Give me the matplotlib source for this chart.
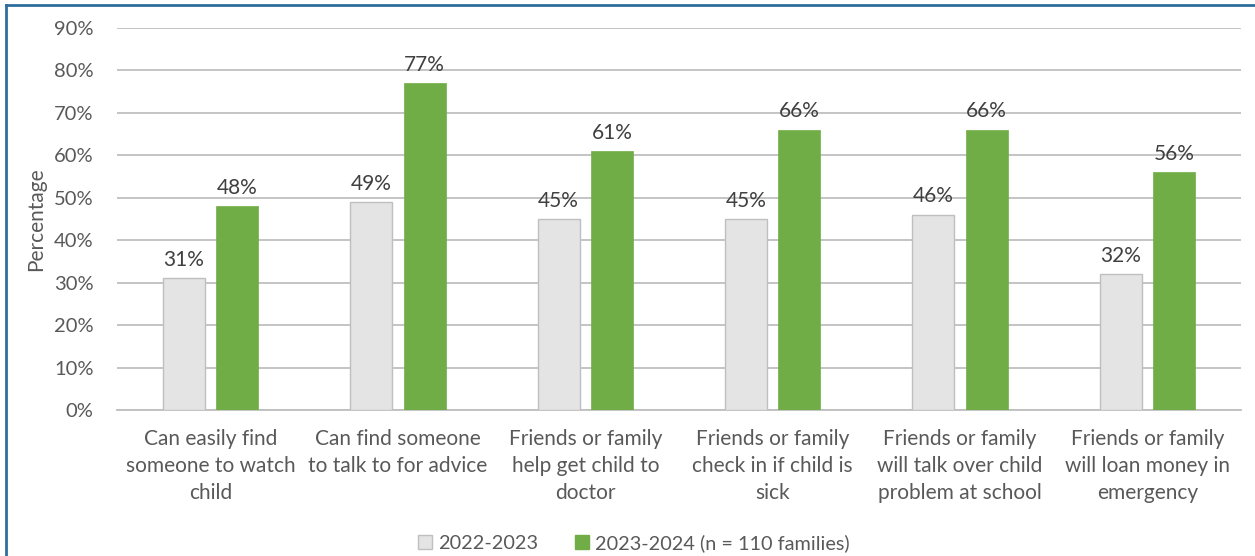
import numpy as np
import matplotlib.pyplot as plt
from matplotlib.patches import Rectangle
from matplotlib.lines import Line2D

# Chart data
categories = [
    "Can easily find\nsomeone to watch\nchild",
    "Can find someone\nto talk to for advice",
    "Friends or family\nhelp get child to\ndoctor",
    "Friends or family\ncheck in if child is\nsick",
    "Friends or family\nwill talk over child\nproblem at school",
    "Friends or family\nwill loan money in\nemergency",
]
series_names = ["2022-2023", "2023-2024 (n = 110 families)"]
values_2022 = [31, 49, 45, 45, 46, 32]
values_2023 = [48, 77, 61, 66, 66, 56]
y_ticks = [0, 10, 20, 30, 40, 50, 60, 70, 80, 90]

plt.rcParams['font.family'] = ['Lato', 'DejaVu Sans']
text_color = "#595959"
gray_fill = "#E4E4E4"
gray_edge = "#BFBFBF"
green = "#70AD47"

fig = plt.figure(figsize=(12.55, 5.56), dpi=100)
ax = fig.add_axes([117 / 1255, 1 - 410 / 556, (1241 - 117) / 1255, (410 - 28) / 556])

x = np.arange(len(categories))
width = 0.225
off = width / 2 + 0.03
b1 = ax.bar(x - off, values_2022, width, color=gray_fill, edgecolor=gray_edge,
            linewidth=1, zorder=3, label=series_names[0])
b2 = ax.bar(x + off, values_2023, width, color=green, edgecolor=green,
            linewidth=0.5, zorder=3, label=series_names[1])

for bars, vals in [(b1, values_2022), (b2, values_2023)]:
    for r, v in zip(bars, vals):
        ax.text(r.get_x() + r.get_width() / 2, v + 2.0, f"{v}%", ha="center",
                va="bottom", fontsize=15, color="#404040")

ax.set_xlim(-0.5, len(categories) - 0.5)
ax.set_ylim(0, 90)
ax.set_yticks(y_ticks)
ax.set_yticklabels([f"{t}%" for t in y_ticks])
ax.yaxis.grid(True, color="#BFBFBF", linewidth=1.3, zorder=0)
ax.set_axisbelow(True)
for s in ["top", "right", "left"]:
    ax.spines[s].set_visible(False)
ax.spines["bottom"].set_color("#BFBFBF")
ax.spines["bottom"].set_linewidth(1.3)
ax.tick_params(axis="y", length=0, pad=17, labelsize=14.5, labelcolor=text_color)
ax.tick_params(axis="x", length=0, pad=14, labelsize=15, labelcolor=text_color)
ax.set_xticks(x)
ax.set_xticklabels(categories, linespacing=1.42)
ax.set_ylabel("Percentage", fontsize=15, color=text_color)
ax.yaxis.set_label_coords(-0.063, 0.5)

handles = [Rectangle((0, 0), 1, 1, facecolor=gray_fill, edgecolor=gray_edge),
           Rectangle((0, 0), 1, 1, facecolor=green, edgecolor=green)]
fig.legend(handles, series_names, loc="center", bbox_to_anchor=(0.505, 1 - 543 / 556),
           ncol=2, frameon=False, fontsize=14.3, labelcolor=text_color,
           handlelength=0.7, handleheight=0.7, handletextpad=0.3, columnspacing=1.9)

# blue frame on top and left edges
border = "#2E6E9E"
fig.add_artist(Line2D([6 / 1255, 1], [1 - 5 / 556, 1 - 5 / 556], color=border,
                      linewidth=2, transform=fig.transFigure))
fig.add_artist(Line2D([6 / 1255, 6 / 1255], [0, 1 - 5 / 556], color=border,
                      linewidth=2, transform=fig.transFigure))

fig.savefig("out.png", dpi=100)
